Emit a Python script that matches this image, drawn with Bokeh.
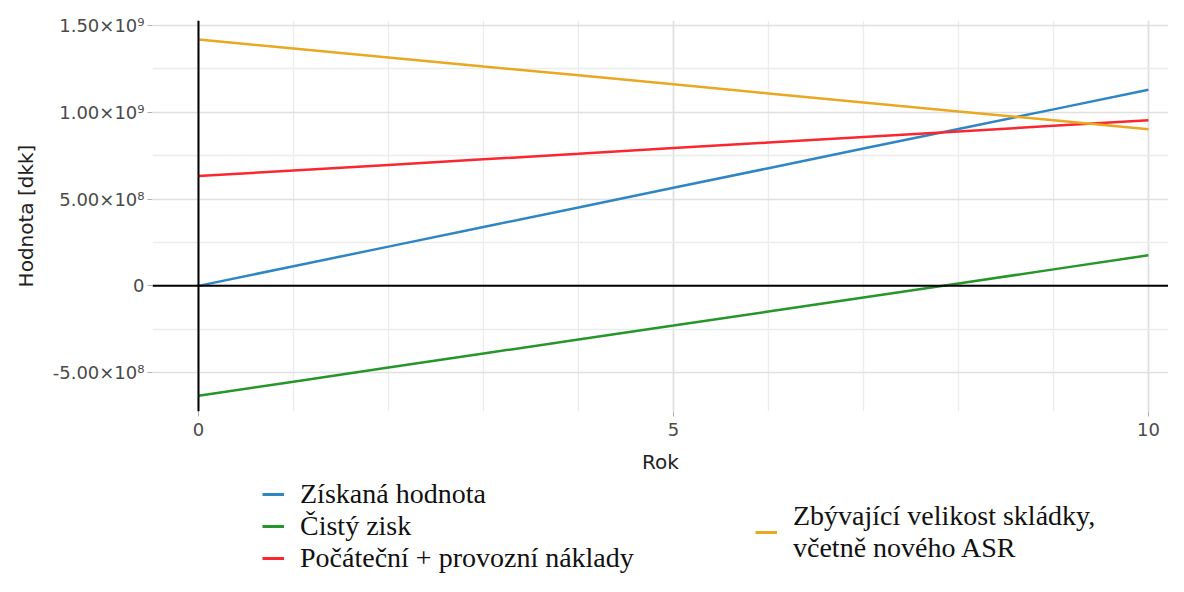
from bokeh.plotting import figure
from bokeh.models import Range1d, FixedTicker, Span, Legend, LegendItem
from bokeh.layouts import column
from bokeh.embed import file_html
from bokeh.resources import INLINE

# ---- data ----
years = [0, 1, 2, 3, 4, 5, 6, 7, 8, 9, 10]
ziskana_hodnota = [0.0, 113e6, 226e6, 339e6, 452e6, 565e6, 678e6, 791e6, 904e6, 1017e6, 1130e6]
cisty_zisk = [-633e6, -552e6, -471e6, -390e6, -309e6, -229e6, -148e6, -67e6, 14e6, 95e6, 176e6]
naklady = [633e6, 665e6, 697e6, 729e6, 761e6, 794e6, 826e6, 858e6, 890e6, 922e6, 954e6]
skladka = [1420e6, 1368e6, 1316e6, 1264e6, 1213e6, 1161e6, 1109e6, 1057e6, 1005e6, 954e6, 902e6]

series_names = ["Získaná hodnota", "Čistý zisk", "Počáteční + provozní náklady",
                "Zbývající velikost skládky,\nvčetně nového ASR"]
series_colors = ["#2f86c4", "#26962b", "#fb2630", "#eaa720"]

x_ticks = [0, 5, 10]
x_minor = [0, 1, 2, 3, 4, 5, 6, 7, 8, 9, 10]
y_ticks = [-5e8, 0, 5e8, 1e9, 1.5e9]
y_tick_labels = ["-5.00×10⁸", "0", "5.00×10⁸", "1.00×10⁹", "1.50×10⁹"]
y_minor = [-2.5e8, 2.5e8, 7.5e8, 1.25e9]

AX_FONT = "DejaVu Sans"

p = figure(width=1168, height=476, output_backend="svg", toolbar_location=None,
           x_range=Range1d(-0.484, 10.211), y_range=Range1d(-0.724e9, 1.529e9),
           min_border_left=152, min_border_right=0, min_border_top=20, min_border_bottom=64)
p.outline_line_color = None
p.background_fill_color = "white"

p.xaxis.ticker = FixedTicker(ticks=x_ticks, minor_ticks=x_minor)
p.yaxis.ticker = FixedTicker(ticks=y_ticks, minor_ticks=y_minor)
p.yaxis.major_label_overrides = dict(zip(y_ticks, y_tick_labels))

for ax in (p.xaxis, p.yaxis):
    ax.axis_line_color = None
    ax.major_tick_in = 0
    ax.major_tick_out = 5
    ax.major_tick_line_color = "#b0b0b0"
    ax.minor_tick_line_color = None
    ax.major_label_text_font = AX_FONT
    ax.major_label_text_font_size = "18px"
    ax.major_label_text_color = "#4a4a4a"
    ax.axis_label_text_font = AX_FONT
    ax.axis_label_text_font_size = "20px"
    ax.axis_label_text_font_style = "normal"
    ax.axis_label_text_color = "#222222"

p.xaxis.axis_label = "Rok"
p.yaxis.axis_label = "Hodnota [dkk]"
p.xaxis.major_label_standoff = 6
p.xaxis.axis_label_standoff = 11
p.yaxis.major_label_standoff = 3
p.yaxis.axis_label_standoff = 12

for g in (p.xgrid, p.ygrid):
    g.grid_line_color = "#e0e0e0"
    g.grid_line_width = 1.6
    g.minor_grid_line_color = "#ececec"
    g.minor_grid_line_width = 1.4

p.add_layout(Span(location=0, dimension="height", line_color="black", line_width=2))
p.add_layout(Span(location=0, dimension="width", line_color="black", line_width=2))

for ys, c in zip([ziskana_hodnota, cisty_zisk, naklady, skladka], series_colors):
    p.line(years, ys, line_color=c, line_width=2.5)

# ---- legend panel (separate figure below the chart) ----
lg = figure(width=1168, height=100, output_backend="svg", toolbar_location=None,
            x_range=Range1d(0, 1), y_range=Range1d(0, 1),
            x_axis_location=None, y_axis_location=None,
            min_border_left=152, min_border_right=0, min_border_top=0, min_border_bottom=0)
lg.outline_line_color = None
lg.grid.visible = False

# key renderers: data outside the visible range, only used to draw legend keys
key_renderers = [lg.line([5, 6], [5, 5], line_color=c, line_width=3) for c in series_colors]


def make_legend(items, loc):
    leg = Legend(items=items, location=loc, orientation="vertical",
                 label_text_font="Liberation Serif", label_text_font_size="28px",
                 label_text_color="#111111",
                 glyph_width=22, glyph_height=20, label_standoff=16, spacing=0,
                 padding=0, margin=0, border_line_color=None,
                 background_fill_alpha=0)
    lg.add_layout(leg)
    return leg


make_legend([LegendItem(label=series_names[i], renderers=[key_renderers[i]]) for i in range(3)], (110, 2))
make_legend([LegendItem(label=series_names[3], renderers=[key_renderers[3]])], (603, 12))

layout = column(p, lg, spacing=0)
open("out.html", "w").write(file_html(layout, INLINE))
